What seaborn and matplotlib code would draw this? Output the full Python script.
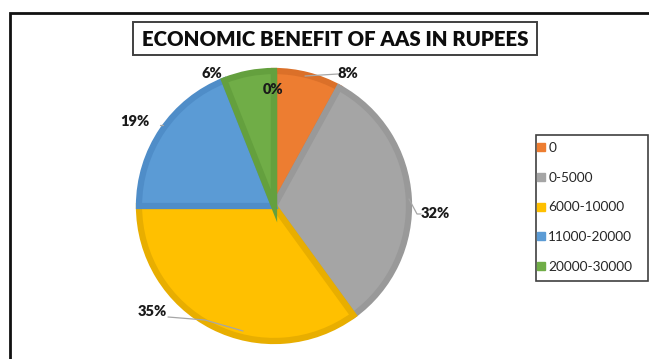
import matplotlib
matplotlib.use("Agg")
import matplotlib.pyplot as plt
import seaborn as sns
import numpy as np
from matplotlib.patches import Rectangle
from matplotlib.lines import Line2D

categories = ["0", "0-5000", "6000-10000", "11000-20000", "20000-30000", ""]
values = [8, 32, 35, 19, 6, 0]
pct_labels = ["8%", "32%", "35%", "19%", "6%", "0%"]
title = "ECONOMIC BENEFIT OF AAS IN RUPEES"

face_colors = ["#ED7D31", "#A5A5A5", "#FFC000", "#5B9BD5", "#70AD47", "#70AD47"]
edge_colors = ["#DB7029", "#999999", "#E8AE00", "#4F8DC8", "#64A03E", "#64A03E"]

sns.set_theme(style="white")
plt.rcParams['font.family'] = ['Lato', 'DejaVu Sans']

W, H = 649, 359
fig = plt.figure(figsize=(W / 100, H / 100), dpi=100)
fig.patch.set_facecolor("white")
ax = fig.add_axes([0, 0, 1, 1])

cx, cy, r = 274, H - 206, 135
wedges, _ = ax.pie(values, colors=face_colors, startangle=90, counterclock=False,
                   center=(cx, cy), radius=r,
                   wedgeprops=dict(linewidth=4.5))
for w, ec in zip(wedges, edge_colors):
    w.set_edgecolor(ec)
    w.set_joinstyle("miter")
ax.set_xlim(0, W)
ax.set_ylim(0, H)
ax.set_aspect("equal")
ax.axis("off")

# label positions (pixel coordinates, top-origin) and leader lines
label_pos = [(348, 73), (435, 213), (152, 311), (135, 121), (212, 74), (273, 90)]
leaders = [
    [(305, 76), (338, 74)],
    [(409, 199), (417, 214), (421, 214)],
    [(243, 331), (205, 320), (168, 317)],
    [(160, 125), (163, 125)],
    None,
    None,
]
for lab, (lx, ly), ld in zip(pct_labels, label_pos, leaders):
    ax.text(lx, H - ly, lab, ha="center", va="center", fontsize=10.5,
            fontweight="heavy", color="#1A1A1A")
    if ld:
        xs = [p[0] for p in ld]
        ys = [H - p[1] for p in ld]
        ax.plot(xs, ys, color="#A6A6A6", lw=0.9)

# title box
ax.add_patch(Rectangle((133, H - 55), 404, 33, fill=False, ec="#404040", lw=1.4))
ax.text(335, H - 39, title, ha="center", va="center", fontsize=14.7,
        fontweight="heavy", color="#0D0D0D")

# outer frame
ax.plot([9.5, 9.5, W + 5], [-5, H - 12.5, H - 12.5], color="#111111", lw=2,
        solid_joinstyle="miter")

# legend
ax.add_patch(Rectangle((536, H - 281), 112, 146, fill=False, ec="#404040", lw=1.2))
handles = [Line2D([0], [0], marker="s", linestyle="", markersize=6,
                  markerfacecolor=c, markeredgecolor=c) for c in face_colors[:5]]
leg = ax.legend(handles, categories[:5], loc="upper left",
                bbox_to_anchor=(536 / W, (H - 142) / H), frameon=False,
                fontsize=9.8, labelspacing=1.3, handlelength=0.7,
                handletextpad=0.2, borderaxespad=0, borderpad=0)
for t in leg.get_texts():
    t.set_color("#262626")

fig.savefig("out.png", dpi=100)
